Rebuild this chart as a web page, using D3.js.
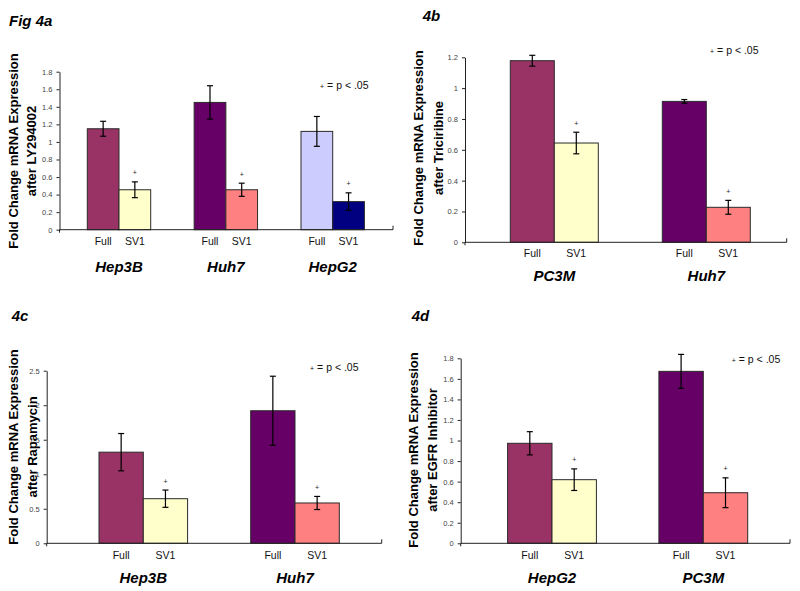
<!DOCTYPE html>
<html><head><meta charset="utf-8">
<script src="https://cdn.jsdelivr.net/npm/d3@7"></script>
<style>
body{margin:0;background:#fff}
svg{display:block}
text{font-family:"Liberation Sans",Arial,Helvetica,sans-serif}
</style>
</head><body>
<svg id="chart" width="800" height="591"></svg>
<script>
// ---------- DATA ----------
const barLabels = ["Full", "SV1"];

// Fig 4a — after LY294002
const aGroups = ["Hep3B", "Huh7", "HepG2"];
const aFull = [1.15, 1.45, 1.12];
const aFullErr = [0.085, 0.19, 0.17];
const aSV1 = [0.455, 0.455, 0.32];
const aSV1Err = [0.09, 0.075, 0.10];
const aTicks = [0, 0.2, 0.4, 0.6, 0.8, 1, 1.2, 1.4, 1.6, 1.8];

// 4b — after Triciribine
const bGroups = ["PC3M", "Huh7"];
const bFull = [1.178, 0.914];
const bFullErr = [0.035, 0.012];
const bSV1 = [0.644, 0.227];
const bSV1Err = [0.07, 0.045];
const bTicks = [0, 0.2, 0.4, 0.6, 0.8, 1, 1.2];

// 4c — after Rapamycin
const cGroups = ["Hep3B", "Huh7"];
const cFull = [1.32, 1.92];
const cFullErr = [0.27, 0.50];
const cSV1 = [0.646, 0.584];
const cSV1Err = [0.125, 0.095];
const cTicks = [0, 0.5, 1, 1.5, 2, 2.5];

// 4d — after EGFR Inhibitor
const dGroups = ["HepG2", "PC3M"];
const dFull = [0.973, 1.673];
const dFullErr = [0.113, 0.165];
const dSV1 = [0.619, 0.492];
const dSV1Err = [0.105, 0.145];
const dTicks = [0, 0.2, 0.4, 0.6, 0.8, 1, 1.2, 1.4, 1.6, 1.8];

const panelTitles = ["Fig 4a", "4b", "4c", "4d"];
const yTitle1 = "Fold Change mRNA Expression";
const yTitle2 = ["after LY294002", "after Triciribine", "after Rapamycin", "after EGFR Inhibitor"];
const legendText = "= p < .05";

// ---------- STYLE / LAYOUT ----------
const groupColors = [["#993366", "#FFFFCC"], ["#660066", "#FF8080"], ["#CCCCFF", "#000080"]];

const panels = [
  {groups: aGroups, full: aFull, fullErr: aFullErr, sv1: aSV1, sv1Err: aSV1Err, ticks: aTicks,
   L: {x0: 59.5, x1: 393, yTop: 71.7, yBot: 229.7, c0: 119, c1: 332.7, barW: 31.7,
       tX: 9, tY: 26, yt1: 13.3, yt2: 31.7, ytC: 151, lblY: 241.5, catY: 267, legX: 320, legY: 83}},
  {groups: bGroups, full: bFull, fullErr: bFullErr, sv1: bSV1, sv1Err: bSV1Err, ticks: bTicks,
   L: {x0: 465, x1: 786.7, yTop: 57.3, yBot: 242.3, c0: 554.3, c1: 706.3, barW: 44,
       tX: 422.7, tY: 20.5, yt1: 418.3, yt2: 438.3, ytC: 148, lblY: 253.3, catY: 276, legX: 710, legY: 48}},
  {groups: cGroups, full: cFull, fullErr: cFullErr, sv1: cSV1, sv1Err: cSV1Err, ticks: cTicks,
   L: {x0: 46.7, x1: 381.7, yTop: 370.7, yBot: 543.3, c0: 143.3, c1: 295, barW: 44.3,
       tX: 11.7, tY: 320.5, yt1: 13, yt2: 32, ytC: 447, lblY: 555, catY: 577.5, legX: 310, legY: 365.7}},
  {groups: dGroups, full: dFull, fullErr: dFullErr, sv1: dSV1, sv1Err: dSV1Err, ticks: dTicks,
   L: {x0: 460.7, x1: 790, yTop: 358.3, yBot: 543.3, c0: 552, c1: 703.3, barW: 44.4,
       tX: 411.7, tY: 320.5, yt1: 413, yt2: 432, ytC: 450, lblY: 555, catY: 577.5, legX: 731.7, legY: 357.3}}
];

const svg = d3.select("#chart");

panels.forEach((p, pi) => {
  const L = p.L;
  const g = svg.append("g");
  const y = d3.scaleLinear().domain([0, d3.max(p.ticks)]).range([L.yBot, L.yTop]);
  const x = d3.scalePoint().domain(p.groups).range([L.c0, L.c1]);
  const sub = d3.scaleBand().domain(barLabels).range([-L.barW, L.barW]).padding(0);

  // title
  g.append("text").attr("x", L.tX).attr("y", L.tY)
    .attr("font-size", 15).attr("font-weight", "bold").attr("font-style", "italic")
    .text(panelTitles[pi]);

  // y title
  [[yTitle1, L.yt1], [yTitle2[pi], L.yt2]].forEach(([t, xx]) => {
    g.append("text")
      .attr("transform", `translate(${xx},${L.ytC}) rotate(-90)`)
      .attr("text-anchor", "middle").attr("dy", "0.36em")
      .attr("font-size", 13).attr("font-weight", "bold").attr("fill", "#000")
      .text(t);
  });

  // bars
  const rows = [];
  p.groups.forEach((grp, i) => {
    rows.push({grp, i, k: 0, lab: "Full", v: p.full[i], e: p.fullErr[i]});
    rows.push({grp, i, k: 1, lab: "SV1", v: p.sv1[i], e: p.sv1Err[i]});
  });

  g.selectAll("rect.bar").data(rows).enter().append("rect")
    .attr("class", "bar")
    .attr("x", d => x(d.grp) + sub(d.lab))
    .attr("width", sub.bandwidth())
    .attr("y", d => y(d.v))
    .attr("height", d => y(0) - y(d.v))
    .attr("fill", d => groupColors[d.i][d.k])
    .attr("stroke", "#2a2a2a").attr("stroke-width", 1);

  // error bars
  const eg = g.selectAll("g.err").data(rows).enter().append("g").attr("class", "err")
    .attr("transform", d => `translate(${x(d.grp) + sub(d.lab) + sub.bandwidth() / 2},0)`);
  eg.append("line").attr("x1", 0).attr("x2", 0)
    .attr("y1", d => y(d.v + d.e)).attr("y2", d => y(d.v - d.e))
    .attr("stroke", "#000").attr("stroke-width", 1.2);
  eg.append("line").attr("x1", -3).attr("x2", 3)
    .attr("y1", d => y(d.v + d.e)).attr("y2", d => y(d.v + d.e))
    .attr("stroke", "#000").attr("stroke-width", 1.2);
  eg.append("line").attr("x1", -3).attr("x2", 3)
    .attr("y1", d => y(d.v - d.e)).attr("y2", d => y(d.v - d.e))
    .attr("stroke", "#000").attr("stroke-width", 1.2);
  // significance marks on SV1
  eg.filter(d => d.k === 1).append("text")
    .attr("x", 0).attr("y", d => y(d.v + d.e) - 9)
    .attr("text-anchor", "middle").attr("dy", "0.35em")
    .attr("font-size", 7).attr("fill", "#222").text("+");

  // y axis
  const ya = g.append("g").attr("transform", `translate(${L.x0},0)`)
    .call(d3.axisLeft(y).tickValues(p.ticks).tickSize(3).tickSizeOuter(0).tickPadding(4)
      .tickFormat(d3.format("~g")));
  ya.select(".domain").attr("stroke", "#222");
  ya.selectAll(".tick line").attr("stroke", "#222");
  ya.selectAll(".tick text").attr("font-size", 7.5).attr("fill", "#444")
    .attr("font-family", '"Liberation Sans",Arial,sans-serif');

  // x axis line
  g.append("line").attr("x1", L.x0).attr("x2", L.x1).attr("y1", L.yBot).attr("y2", L.yBot)
    .attr("stroke", "#222").attr("stroke-width", 1);
  g.append("line").attr("x1", L.x0).attr("x2", L.x0).attr("y1", L.yBot).attr("y2", L.yBot + 3)
    .attr("stroke", "#222");
  g.append("line").attr("x1", L.x1).attr("x2", L.x1).attr("y1", L.yBot).attr("y2", L.yBot - 4)
    .attr("stroke", "#222");

  // bar labels
  g.selectAll("text.blab").data(rows).enter().append("text")
    .attr("class", "blab")
    .attr("x", d => x(d.grp) + sub(d.lab) + sub.bandwidth() / 2)
    .attr("y", L.lblY).attr("dy", "0.35em")
    .attr("text-anchor", "middle").attr("font-size", 10.5).attr("fill", "#111")
    .text(d => d.lab);

  // category labels
  g.selectAll("text.cat").data(p.groups).enter().append("text")
    .attr("class", "cat")
    .attr("x", d => x(d)).attr("y", L.catY).attr("dy", "0.35em")
    .attr("text-anchor", "middle").attr("font-size", 15)
    .attr("font-weight", "bold").attr("font-style", "italic")
    .text(d => d);

  // legend
  const lg = g.append("text").attr("x", L.legX).attr("y", L.legY).attr("dy", "0.35em")
    .attr("fill", "#111");
  lg.append("tspan").attr("font-size", 7).text("+");
  lg.append("tspan").attr("font-size", 10.5).attr("dx", 3).text(legendText);
});
</script>
</body></html>
